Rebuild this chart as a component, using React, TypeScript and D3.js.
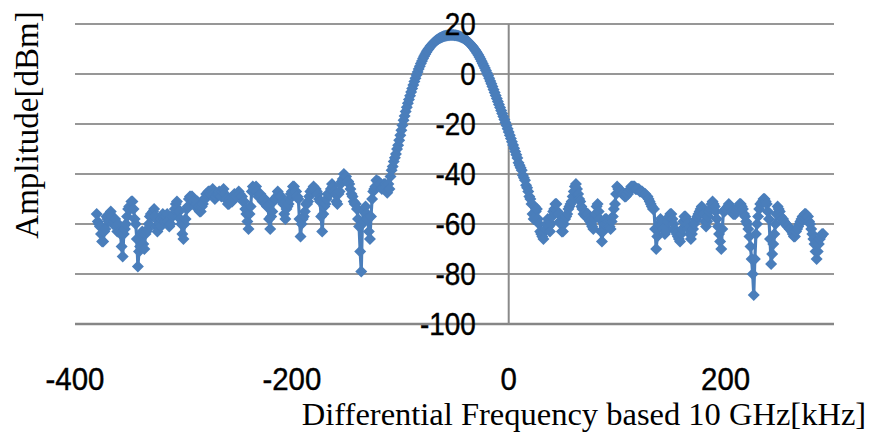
import React from "react";
import * as d3 from "d3";

// Measured amplitude in dBm, sampled every 1 kHz. Three blocks with their own start frequency (kHz).
const sampleStep = 1;

const leftNoiseStart = -380;
const leftNoise: number[] = [
  -56, -59, -60, -61, -64, -67, -67, -63, -62, -57, -58, -59, -56, -55, -57, -60, -59, -58, -61, -63,
  -60, -63, -64, -69, -73, -64, -62, -60, -57, -54, -53, -54, -51, -51, -54, -58, -60, -66, -77, -71,
  -69, -64, -63, -68, -70, -64, -63, -62, -60, -57, -56, -57, -55, -54, -57, -61, -63, -59, -60, -61,
  -58, -56, -58, -59, -57, -56, -59, -61, -60, -57, -57, -56, -54, -52, -51, -54, -55, -58, -60, -64,
  -66, -60, -58, -54, -53, -50, -49, -49, -49, -51, -51, -53, -52, -51, -53, -55, -55, -53, -52, -50,
  -50, -48, -48, -47, -47, -48, -47, -46, -48, -50, -49, -48, -48, -47, -48, -49, -47, -46, -48, -50,
  -50, -52, -52, -50, -51, -51, -50, -48, -49, -49, -48, -47, -48, -49, -49, -51, -51, -54, -56, -59,
  -62, -56, -53, -47, -45, -46, -46, -45, -47, -49, -48, -48, -49, -51, -50, -50, -52, -53, -53, -58,
  -62, -57, -55, -51, -50, -50, -49, -47, -48, -49, -49, -51, -52, -56, -58, -54, -53, -52, -50, -48,
  -47, -45, -45, -47, -47, -49, -50, -58, -65, -60, -58, -57, -55, -52, -52, -51, -49, -47, -47, -46,
  -45, -46, -46, -47, -48, -50, -51, -57, -63, -56, -53, -52, -50, -48, -48, -48, -46, -44, -45, -47,
  -48, -51, -52, -48, -47, -44, -43, -42, -40, -41, -41, -43, -43, -44, -46, -48, -49, -51, -52, -52,
  -54, -58, -61, -71, -79, -60, -55, -55, -53, -56, -58, -63, -66, -57, -50, -47, -46, -45, -42.5, -43,
  -43, -44, -44, -46, -45.5, -44, -44, -45, -47.5,
];

const peakStart = -111;
const peak: number[] = [
  -44, -46, -41, -38.5, -37, -35, -33.5, -32, -30, -28.5,
  -26.5, -24.5, -22.5, -20.5, -18.5, -16.8, -15, -13.3, -11.7, -10.2,
  -8.7, -7.2, -5.8, -4.4, -3.0, -1.7, -0.4, 0.8, 2.0, 3.1,
  4.2, 5.2, 6.2, 7.1, 7.9, 8.7, 9.4, 10.0, 10.6, 11.2,
  11.7, 12.2, 12.6, 13.0, 13.4, 13.7, 14.0, 14.3, 14.5, 14.7,
  14.9, 15.1, 15.2, 15.3, 15.4, 15.5, 15.5, 15.6, 15.6, 15.6,
  15.6, 15.5, 15.5, 15.4, 15.3, 15.2, 15.0, 14.8, 14.6, 14.4,
  14.1, 13.8, 13.5, 13.1, 12.7, 12.3, 11.8, 11.3, 10.8, 10.2,
  9.6, 9.0, 8.3, 7.6, 6.8, 6.0, 5.1, 4.2, 3.3, 2.4,
  1.4, 0.4, -0.6, -1.7, -2.8, -3.9, -5.0, -6.2, -7.4, -8.6,
  -9.8, -11.0, -12.2, -13.4, -14.6, -15.8, -17.0, -18.2, -19.4, -20.6,
  -21.9, -23.2, -24.5, -25.8, -27.1, -28.4, -29.7, -31.0, -32.3, -33.6,
  -35.5, -36.5, -37.5, -38.5, -40.5, -41.5, -42.5, -44.5, -45.5, -47,
  -49,
];

const rightNoiseStart = 20;
const rightNoise: number[] = [
  -50, -52, -56, -58, -53, -55, -54, -58, -60, -63, -64, -65, -66, -63, -62, -60, -58, -61, -63, -60,
  -57, -55, -54, -52, -52, -55, -56, -59, -60, -63, -63, -60, -58, -57, -56, -54, -53, -52, -51, -49,
  -47, -45, -44, -46, -48, -50, -51, -53, -54, -56, -56, -57, -57, -56, -58, -59, -60, -61, -62, -58,
  -56, -53, -52, -55, -58, -63, -67, -63, -60, -58, -58, -60, -59, -61, -62, -59, -57, -54, -52, -48,
  -45, -46, -46, -47, -47, -48, -48, -49, -49, -48, -48, -47, -46, -45, -45, -45, -45, -46, -46, -46,
  -46, -47, -47, -47, -47.5, -48, -48, -49, -49, -50, -51, -52, -53, -54, -54, -62, -70, -65, -62, -60,
  -58, -59, -60, -62, -64, -63, -62, -59, -57, -56, -56, -58, -60, -62, -63, -64, -65, -66, -67, -64,
  -62, -59, -57, -57, -58, -60, -62, -64, -66, -64, -62, -60, -59, -58, -57, -56, -55, -54, -53, -54,
  -56, -59, -61, -59, -57, -55, -54, -52, -51, -52, -53, -55, -58, -61, -64, -67, -70, -62, -55, -55,
  -54, -54, -53, -52, -53, -54, -55, -56, -56, -56, -55, -54, -53, -52, -52, -53, -54, -56, -57, -59,
  -60, -62, -65, -69, -74, -80, -88.4, -74, -64, -60, -57, -54, -52, -52, -51, -50, -50, -51, -52, -55,
  -58, -66, -76, -72, -68, -64, -60, -56, -53, -54, -55, -57, -58, -58, -59, -60, -60, -61, -61, -62,
  -62, -63, -64, -65, -65, -63, -62, -61, -60, -59, -58, -57, -57, -56, -56, -57, -57, -59, -60, -62,
  -64, -66, -68, -71, -74, -71, -68, -66, -65, -64, -64,
];

const xTicks = [-400, -200, 0, 200];
const yTicks = [20, 0, -20, -40, -60, -80, -100];
const xDomain: [number, number] = [-400, 300];
const yDomain: [number, number] = [-100, 20];

const xTitle = "Differential Frequency based 10 GHz[kHz]";
const yTitle = "Amplitude[dBm]";

const W = 875;
const H = 435;
const plot = { left: 75, right: 834, top: 24, bottom: 324 };
const blue = "#4A7EBB";

function block(start: number, values: number[]): [number, number][] {
  return values.map((v, i) => [start + i * sampleStep, v] as [number, number]);
}

export default function App() {
  const x = d3.scaleLinear().domain(xDomain).range([plot.left, plot.right]);
  const y = d3.scaleLinear().domain(yDomain).range([plot.bottom, plot.top]);

  const pts = [
    ...block(leftNoiseStart, leftNoise),
    ...block(peakStart, peak),
    ...block(rightNoiseStart, rightNoise),
  ];
  const line = d3
    .line<[number, number]>()
    .x((d) => x(d[0]))
    .y((d) => y(d[1]));

  const r = 6;
  const diamond = `M0,${-r}L${r},0L0,${r}L${-r},0Z`;
  const tickFont = "'Liberation Sans', Arial, sans-serif";
  const titleFont = "'Liberation Serif', 'Times New Roman', serif";

  return (
    <svg
      width={W}
      height={H}
      style={{ position: "absolute", left: 0, top: 0, background: "#fff" }}
    >
      {yTicks
        .filter((t) => t !== -100)
        .map((t) => (
          <line
            key={"g" + t}
            x1={plot.left}
            x2={plot.right}
            y1={y(t)}
            y2={y(t)}
            stroke="#979797"
            strokeWidth={2}
          />
        ))}
      <line
        x1={plot.left}
        x2={plot.right}
        y1={y(-100)}
        y2={y(-100)}
        stroke="#868686"
        strokeWidth={2.5}
      />
      <line
        x1={x(0)}
        x2={x(0)}
        y1={plot.top}
        y2={plot.bottom}
        stroke="#8a8a8a"
        strokeWidth={2}
      />

      <path
        d={line(pts) || ""}
        fill="none"
        stroke={blue}
        strokeWidth={3.2}
        strokeLinejoin="round"
      />
      {pts.map((d, i) => (
        <path key={i} d={diamond} transform={`translate(${x(d[0])},${y(d[1])})`} fill={blue} />
      ))}

      {yTicks.map((t) => (
        <text
          key={"y" + t}
          transform={`translate(${x(0) - 33},${y(t) + 11}) scale(0.9,1)`}
          textAnchor="end"
          fontFamily={tickFont}
          fontSize={31}
          fill="#000"
          stroke="#000"
          strokeWidth={0.4}
        >
          {t}
        </text>
      ))}
      {xTicks.map((t) => (
        <text
          key={"x" + t}
          transform={`translate(${x(t)},${390}) scale(0.95,1)`}
          textAnchor="middle"
          fontFamily={tickFont}
          fontSize={31}
          fill="#000"
          stroke="#000"
          strokeWidth={0.4}
        >
          {t}
        </text>
      ))}

      <text
        x={584}
        y={425}
        textAnchor="middle"
        fontFamily={titleFont}
        fontSize={32.5}
        fill="#000"
      >
        {xTitle}
      </text>
      <text
        transform={`translate(38,125) rotate(-90)`}
        textAnchor="middle"
        fontFamily={titleFont}
        fontSize={33}
        fill="#000"
      >
        {yTitle}
      </text>
    </svg>
  );
}
